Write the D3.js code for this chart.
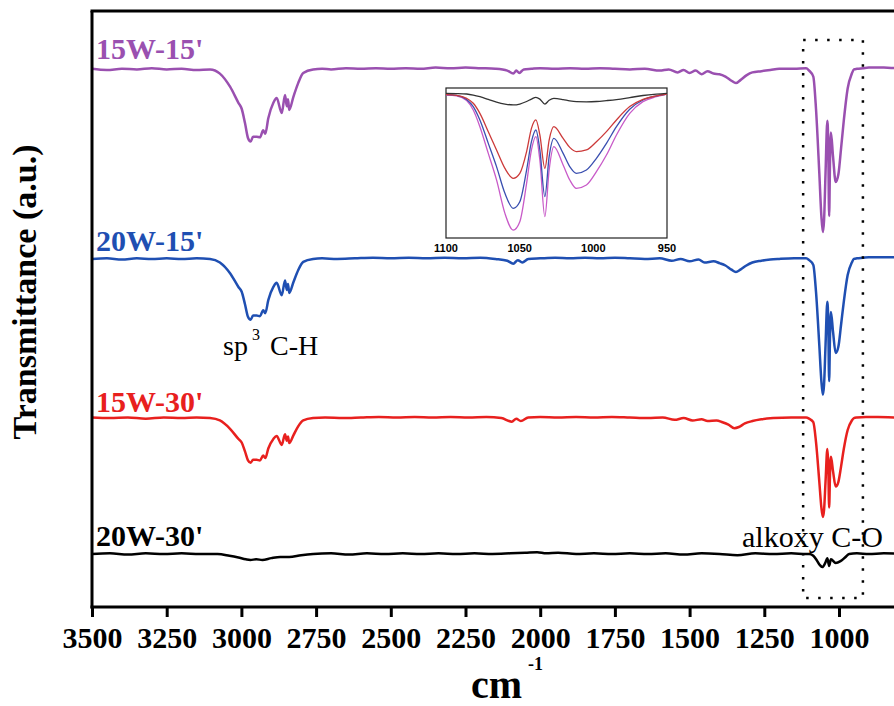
<!DOCTYPE html>
<html>
<head>
<meta charset="utf-8">
<script src="https://cdn.jsdelivr.net/npm/d3@7"></script>
<style>
  html, body { margin: 0; padding: 0; background: #fff; }
  svg { display: block; font-family: "Liberation Serif", "Times New Roman", serif; }
</style>
</head>
<body>
<svg id="chart" width="894" height="706"></svg>
<script>
// ── Data ────────────────────────────────────────────────────────────────────
// FTIR spectra, offset vertically. Each series: [wavenumber, change from its baseline]
const samples   = ["15W-15'", "20W-15'", "15W-30'", "20W-30'"];
const baselines = [90.2, 58.4, 31.7, 8.9];
const xTicks    = [3500, 3250, 3000, 2750, 2500, 2250, 2000, 1750, 1500, 1250, 1000];

const s15W15 = [
  [3500,0.1],[3450,-0.1],[3400,0.1],[3350,0],[3300,0.2],[3250,0],[3200,0.1],[3150,-0.1],[3105,0],
  [3072,-0.7],[3038,-2.9],[3010,-5.6],[2999,-6.6],[2988,-9.0],[2978,-11.5],[2969,-12.1],[2961,-11.3],
  [2949,-11.3],[2938,-11.4],[2927,-10.2],[2920,-10.8],[2910,-8.2],[2893,-5.6],[2882,-4.8],[2865,-7.3],
  [2854,-4.3],[2848,-6.2],[2844,-5.0],[2840,-6.8],[2826,-4.6],[2810,-2.3],[2793,-0.6],[2760,0],
  [2730,0.1],[2700,0],[2650,0.2],[2600,0.1],[2550,0.2],[2500,0.1],[2450,0.2],[2400,0.1],[2350,0.3],
  [2300,0.2],[2250,0.3],[2200,0.2],[2150,0.1],[2110,-0.2],[2090,-0.7],[2080,-0.2],[2070,-0.6],[2055,0],
  [2030,0.1],[2000,0.2],[1950,0.1],[1900,0.2],[1850,0.1],[1800,0.2],[1750,0.1],[1700,0],[1650,0.1],
  [1600,-0.2],[1570,0],[1540,-0.5],[1520,-0.1],[1500,-0.6],[1480,-0.2],[1460,-0.8],[1440,-0.3],
  [1420,-0.7],[1400,-0.8],[1380,-1.2],[1360,-1.9],[1345,-2.3],[1330,-1.8],[1310,-1.0],[1290,-0.5],
  [1260,-0.3],[1230,-0.1],[1200,0.1],[1150,0.1],[1110,0.2],
  [1100,-0.2],[1086,-1.2],[1077,-6.6],[1066,-17.3],[1059,-24.6],[1054,-27.3],[1050,-25.3],[1045,-17.3],
  [1039,-8.6],[1036,-12.6],[1033,-24.6],[1030,-15.3],[1027,-10.6],[1020,-14.6],[1011,-18.9],[1002,-17.6],
  [993,-13.2],[984,-8.6],[971,-3.2],[957,-0.7],[950,0],
  [940,0.1],[920,0.2],[900,0.3],[850,0.3],[800,0.2],[700,0.3],[600,0.2],[500,0.3],[400,0.2]
];

const s20W15 = [
  [3500,0],[3450,0.1],[3400,-0.1],[3350,0.1],[3300,0],[3250,0.1],[3200,0],[3150,0.1],[3105,0],
  [3072,-0.6],[3038,-2.4],[3010,-4.7],[2999,-5.5],[2988,-7.6],[2978,-9.7],[2969,-10.2],[2961,-9.5],
  [2949,-9.5],[2938,-9.6],[2927,-8.6],[2920,-9.1],[2910,-6.9],[2893,-4.7],[2882,-4.0],[2865,-6.1],
  [2854,-3.6],[2848,-5.2],[2844,-4.2],[2840,-5.7],[2826,-3.9],[2810,-1.9],[2793,-0.5],[2760,0],
  [2730,0.1],[2680,0],[2620,0.1],[2560,0.2],[2500,0.1],[2440,0.2],[2380,0.1],[2320,0.2],[2260,0.1],
  [2200,0.2],[2150,0],[2110,-0.3],[2090,-0.8],[2075,-0.2],[2060,-0.6],[2040,0],[2000,0.1],[1950,0.2],
  [1900,0.1],[1850,0.2],[1800,0.1],[1750,0.2],[1700,0.1],[1650,0],[1600,0.1],[1560,-0.3],[1530,0],
  [1500,-0.4],[1470,-0.1],[1450,-0.6],[1420,-0.4],[1400,-0.7],[1380,-1.1],[1360,-1.8],[1345,-2.2],
  [1330,-1.8],[1310,-1.1],[1290,-0.6],[1260,-0.3],[1230,-0.1],[1200,0],[1150,0.1],[1110,0.1],
  [1100,-0.2],[1086,-1.0],[1077,-5.5],[1066,-14.4],[1059,-20.5],[1054,-22.8],[1050,-21.1],[1045,-14.4],
  [1039,-7.2],[1036,-10.5],[1033,-20.5],[1030,-12.8],[1027,-8.9],[1020,-12.2],[1011,-15.8],[1002,-14.7],
  [993,-11.0],[984,-7.2],[971,-2.7],[957,-0.6],[950,0],
  [940,0.1],[920,0.2],[900,0.3],[850,0.3],[750,0.2],[600,0.3],[400,0.2]
];

const s15W30 = [
  [3500,0.1],[3440,0],[3380,0.1],[3320,-0.1],[3260,0.1],[3200,0],[3150,0.1],[3105,0],
  [3072,-0.4],[3038,-1.8],[3010,-3.5],[2999,-4.1],[2988,-5.6],[2978,-7.1],[2969,-7.5],[2961,-7.0],
  [2949,-7.0],[2938,-7.1],[2927,-6.3],[2920,-6.7],[2910,-5.1],[2893,-3.5],[2882,-3.0],[2865,-4.5],
  [2854,-2.7],[2848,-3.8],[2844,-3.1],[2840,-4.2],[2826,-2.9],[2810,-1.4],[2793,-0.4],[2760,0],
  [2720,0.1],[2660,0],[2600,0.1],[2540,0.2],[2480,0.1],[2420,0.2],[2360,0.1],[2300,0.2],[2240,0.1],
  [2180,0.2],[2130,0],[2095,-0.6],[2080,-0.1],[2065,-0.5],[2040,0.1],[2000,0.2],[1940,0.1],[1880,0.2],
  [1820,0.1],[1760,0.2],[1700,0.1],[1640,0],[1590,0.1],[1550,-0.3],[1520,0],[1490,-0.4],[1460,-0.2],
  [1440,-0.5],[1410,-0.4],[1390,-0.7],[1370,-1.1],[1350,-1.7],[1335,-1.5],[1315,-0.9],[1290,-0.5],
  [1260,-0.2],[1220,0],[1160,0.1],[1110,0.1],
  [1100,-0.1],[1086,-0.7],[1077,-4.0],[1066,-10.6],[1059,-15.0],[1054,-16.6],[1050,-15.4],[1045,-10.6],
  [1039,-5.2],[1036,-7.7],[1033,-15.0],[1030,-9.3],[1027,-6.5],[1020,-8.9],[1011,-11.5],[1002,-10.7],
  [993,-8.1],[984,-5.2],[971,-2.0],[957,-0.4],[950,0],
  [940,0.1],[910,0.2],[870,0.2],[800,0.1],[700,0.2],[550,0.1],[400,0.2]
];

const s20W30 = [
  [3500,0],[3440,0.1],[3380,-0.1],[3320,0.1],[3260,0],[3200,0.1],[3140,0],[3080,0],
  [3040,-0.3],[3010,-0.6],[2985,-0.9],[2970,-1.0],[2950,-0.9],[2930,-1.0],[2900,-0.7],[2870,-0.5],
  [2840,-0.5],[2800,-0.2],[2760,0],[2700,0.1],[2640,-0.1],[2580,0.1],[2520,0],[2460,0.1],[2400,0],
  [2340,0.1],[2280,0],[2220,0.1],[2160,0],[2100,0.1],[2050,0.2],[2010,0.3],[1980,0.1],[1940,0.2],
  [1880,0],[1820,0.1],[1760,0],[1700,0.1],[1640,0],[1580,0.1],[1520,-0.1],[1460,0.1],[1400,0],
  [1340,-0.2],[1280,0.1],[1220,0],[1160,0.1],[1110,0],
  [1100,0],[1086,-0.3],[1075,-1.0],[1065,-1.8],[1056,-2.2],[1045,-1.4],[1039,-0.7],[1033,-2.0],
  [1027,-0.9],[1011,-1.5],[995,-1.2],[980,-0.6],[966,0],
  [940,0.1],[900,0],[850,0.1],[700,0],[550,0.1],[400,0]
];

const series = [s15W15, s20W15, s15W30, s20W30];

// Inset (1100–950 cm-1), arbitrary units 0–100
const insetWn   = [1100, 1092.8, 1086, 1081.5, 1077, 1071.3, 1065.7, 1060, 1054.4, 1049.9, 1045.3, 1042, 1039,
                   1036.3, 1032.9, 1030, 1026.8, 1020.5, 1016, 1011.5, 1004.7, 997.9, 991.1, 984.3, 975.3,
                   966.3, 957.2, 950];
const inset15W15 = [95.3, 94.7, 91.6, 85.3, 74.2, 56.4, 38.7, 16.4, 5.3, 10.9, 36.4, 58.7, 67.6,
                    52.0, 14.2, 45.3, 60.9, 48.7, 38.7, 33.1, 35.3, 44.2, 55.3, 68.7, 83.1, 90.9, 94.2, 96];
const inset20W15 = [95.6, 95.1, 92.4, 87.6, 78.7, 63.1, 47.6, 29.8, 19.8, 24.2, 45.3, 64.2, 72.0,
                    58.7, 27.6, 54.2, 66.4, 56.4, 47.6, 43.1, 45.3, 53.1, 63.1, 74.2, 85.8, 92.0, 94.7, 96];
const inset15W30 = [95.6, 95.1, 93.1, 89.8, 83.1, 70.9, 58.7, 46.4, 39.8, 43.1, 57.6, 73.1, 78.7,
                    68.7, 46.4, 65.3, 74.2, 66.4, 60.4, 57.6, 58.7, 64.2, 70.9, 78.7, 87.6, 92.4, 94.7, 96];
const inset20W30 = [96.4, 96.3, 96.0, 95.3, 94.2, 92.4, 90.6, 89.3, 88.7, 89.3, 91.0, 92.6, 93.8,
                    92.6, 89.3, 91.8, 93.1, 92.3, 91.4, 90.9, 90.8, 91.0, 91.6, 92.3, 93.6, 95.0, 95.9, 96.4];
const insetTicks = [1100, 1050, 1000, 950];

// ── Styles ──────────────────────────────────────────────────────────────────
const COLORS       = ['#9a50b0', '#1f4fb2', '#e8201e', '#000000'];
const INSET_COLORS = ['#c85ac8', '#3a4fb0', '#cc3a3a', '#333333'];

// ── Layout ──────────────────────────────────────────────────────────────────
const svg = d3.select('#chart');
const W = 894, H = 706;
const M = { left: 92, top: 11, bottom: 607 };

const x = d3.scaleLinear().domain([3500, 400]).range([M.left, M.left + 3100 * 0.2988]);
const y = d3.scaleLinear().domain([0, 100]).range([M.bottom, M.top]);

svg.append('defs').append('clipPath').attr('id', 'plot-clip')
  .append('rect').attr('x', M.left).attr('y', M.top).attr('width', W - M.left).attr('height', M.bottom - M.top);

// ── Spectra ─────────────────────────────────────────────────────────────────
const linesG = svg.append('g').attr('clip-path', 'url(#plot-clip)');
series.forEach((pts, i) => {
  const line = d3.line()
    .x(d => x(d[0]))
    .y(d => y(baselines[i] + d[1]))
    .curve(d3.curveMonotoneX);
  linesG.append('path')
    .datum(pts)
    .attr('d', line)
    .attr('fill', 'none')
    .attr('stroke', COLORS[i])
    .attr('stroke-width', 2.5)
    .attr('stroke-linejoin', 'round');
});

// ── Axes / frame ────────────────────────────────────────────────────────────
svg.append('g')
  .attr('transform', `translate(0,${M.bottom})`)
  .call(d3.axisBottom(x).tickValues(xTicks).tickSize(10).tickSizeOuter(0).tickFormat(d3.format('d')))
  .call(a => a.select('.domain').remove())
  .call(a => a.selectAll('line').attr('stroke', '#000').attr('stroke-width', 3))
  .call(a => a.selectAll('text')
    .attr('fill', '#000').attr('font-size', 30).attr('font-weight', 'bold')
    .attr('font-family', '"Liberation Serif", "Times New Roman", serif')
    .attr('dy', null).attr('y', 41));

svg.append('line').attr('x1', M.left - 1.5).attr('x2', W).attr('y1', M.bottom).attr('y2', M.bottom)
  .attr('stroke', '#000').attr('stroke-width', 3);
svg.append('line').attr('x1', M.left - 1.5).attr('x2', W).attr('y1', M.top).attr('y2', M.top)
  .attr('stroke', '#000').attr('stroke-width', 3);
svg.append('line').attr('x1', M.left).attr('x2', M.left).attr('y1', M.top).attr('y2', M.bottom + 1.5)
  .attr('stroke', '#000').attr('stroke-width', 3);

// axis titles
svg.append('text')
  .attr('transform', 'translate(36,292) rotate(-90)')
  .attr('text-anchor', 'middle').attr('font-size', 34).attr('font-weight', 'bold')
  .text('Transmittance (a.u.)');

svg.append('text').attr('x', 471).attr('y', 698)
  .attr('font-size', 40).attr('font-weight', 'bold')
  .text('cm');
svg.append('text').attr('x', 528).attr('y', 670)
  .attr('font-size', 18).attr('font-weight', 'bold')
  .text('-1');

// ── Series labels ───────────────────────────────────────────────────────────
const labelY = [59, 251, 412, 546];
samples.forEach((s, i) => {
  svg.append('text')
    .attr('x', 96).attr('y', labelY[i])
    .attr('fill', COLORS[i]).attr('font-size', 30).attr('font-weight', 'bold')
    .text(s);
});

// ── Peak annotations ────────────────────────────────────────────────────────
const ch = svg.append('text').attr('y', 355).attr('font-size', 28);
ch.append('tspan').attr('x', 223).text('sp');
ch.append('tspan').attr('x', 252).attr('dy', -15).attr('font-size', 16).text('3');
ch.append('tspan').attr('x', 270).attr('dy', 15).text('C-H');

svg.append('text')
  .attr('x', 742).attr('y', 547).attr('font-size', 30)
  .text('alkoxy C-O');

// dotted box around the C-O band
svg.append('rect')
  .attr('x', x(1120)).attr('y', 40)
  .attr('width', x(920) - x(1120)).attr('height', 558)
  .attr('fill', 'none').attr('stroke', '#000').attr('stroke-width', 2.5)
  .attr('stroke-dasharray', '2.5,9.5');

// ── Inset ───────────────────────────────────────────────────────────────────
const IN = { left: 446, right: 667, top: 88, bottom: 238 };
const ix = d3.scaleLinear().domain([1100, 950]).range([IN.left, IN.right]);
const iy = d3.scaleLinear().domain([0, 100]).range([IN.bottom, IN.top]);

const inset = svg.append('g');
inset.append('rect')
  .attr('x', IN.left).attr('y', IN.top)
  .attr('width', IN.right - IN.left).attr('height', IN.bottom - IN.top)
  .attr('fill', '#fff').attr('stroke', '#222').attr('stroke-width', 1.2);

[inset15W15, inset20W15, inset15W30, inset20W30].forEach((vals, i) => {
  const line = d3.line()
    .x((d, j) => ix(insetWn[j]))
    .y(d => iy(d))
    .curve(d3.curveMonotoneX);
  inset.append('path')
    .datum(vals)
    .attr('d', line)
    .attr('fill', 'none')
    .attr('stroke', INSET_COLORS[i])
    .attr('stroke-width', 1.3);
});

inset.selectAll('.itick')
  .data(insetTicks)
  .join('text')
  .attr('x', d => ix(d)).attr('y', 252)
  .attr('text-anchor', 'middle')
  .attr('font-family', '"Liberation Sans", Arial, sans-serif')
  .attr('font-size', 11).attr('font-weight', 'bold')
  .text(d => d);
</script>
</body>
</html>
